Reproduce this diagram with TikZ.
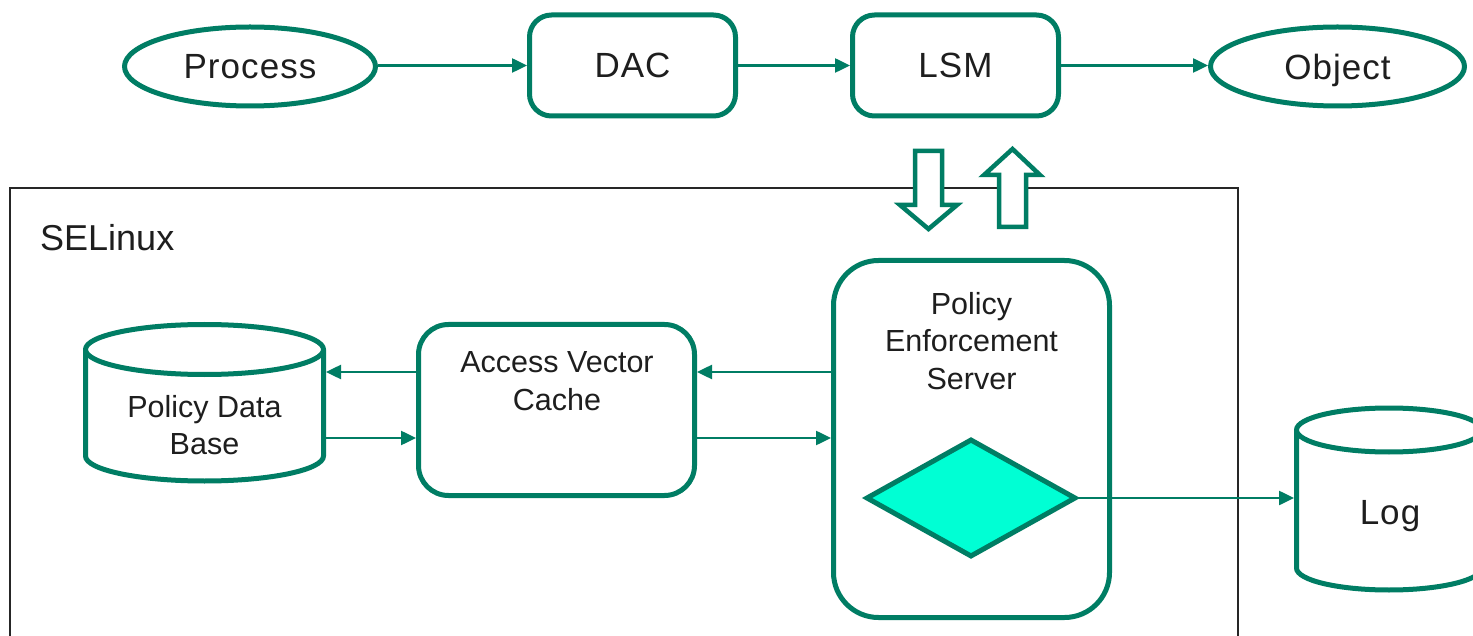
\documentclass[tikz,border=0pt]{standalone}
\usepackage{fontspec}
\setmainfont{Liberation Sans}
\newfontfamily\topfont[LetterSpace=3]{Liberation Sans}
\usetikzlibrary{shapes.geometric,arrows.meta}
\definecolor{segreen}{RGB}{0,125,100}
\definecolor{aquafill}{RGB}{0,255,212}
\definecolor{txtcol}{RGB}{30,30,30}
\begin{document}
\begin{tikzpicture}[x=1pt,y=-1pt,
  shp/.style={draw=segreen, line width=5pt, line join=round},
  toplbl/.style={text=txtcol, font=\topfont\fontsize{35}{40}\selectfont, text depth=0pt},
  inlbl/.style={text=txtcol, align=center, font=\fontsize{30.5}{37.5}\selectfont},
  ell/.style={shp, ellipse, toplbl, inner sep=0pt},
  rbox/.style={shp, rounded corners=22pt, toplbl, inner sep=0pt},
  conn/.style={draw=segreen, line width=2.5pt, -{Triangle[length=15pt,width=14pt]}},
  blk/.style={draw=segreen, line width=4.5pt, fill=white, line join=miter},
  ghost/.style={inner sep=0pt, outer sep=0pt}
]
\useasboundingbox (0,0) rectangle (1473,636);
\fill[white] (0,0) rectangle (1473,636);

% top row
\node[ell, minimum width=251pt, minimum height=79pt] (proc) at (250,66.5) {Process};
\node[rbox, minimum width=206pt, minimum height=101pt] (dac) at (632.5,65.5) {DAC};
\node[rbox, minimum width=206pt, minimum height=101pt] (lsm) at (955.5,65.5) {LSM};
\node[ell, minimum width=254pt, minimum height=79pt] (obj) at (1337.5,66.5) {Object};
\draw[conn] (proc.east |- dac.west) -- (dac.west);
\draw[conn] (dac) -- (lsm);
\draw[conn] (lsm.east) -- (lsm.east -| obj.west);

% SELinux frame
\draw[draw=black!85, line width=2pt] (10,645) -- (10,188) -- (1238,188) -- (1238,645);
\node[anchor=west, text=txtcol, font=\fontsize{36}{40}\selectfont, inner sep=0pt] (sel) at (40,238) {SELinux};

% block arrows between LSM and PES
\draw[blk] (915,151) -- (942,151) -- (942,205) -- (957,205) -- (928.5,229) -- (900,205) -- (915,205) -- cycle;
\draw[blk] (999,227) -- (1026,227) -- (1026,175) -- (1040,175) -- (1012.5,149) -- (984,175) -- (999,175) -- cycle;

% Policy Enforcement Server
\node[shp, rounded corners=45pt, minimum width=276pt, minimum height=357pt] (pes) at (971.5,439) {};
\node[inlbl] (pestxt) at (971.5,341) {Policy\\Enforcement\\Server};
\node[shp, diamond, fill=aquafill, line join=miter, inner sep=0pt, minimum width=210pt, minimum height=118pt] (dia) at (971,498) {};

% Access Vector Cache
\node[shp, rounded corners=30pt, minimum width=276pt, minimum height=171pt] (avc) at (556.5,410) {};
\node[inlbl] (avctxt) at (557,381) {Access Vector\\Cache};

% Policy Data Base cylinder
\draw[shp, fill=white] (85.5,349.5) -- (85.5,456) arc[start angle=180, end angle=360, x radius=119pt, y radius=25pt] -- (323.5,349.5);
\draw[shp, fill=white] (204.5,349.5) ellipse [x radius=119pt, y radius=25pt];
\node[ghost, minimum width=243pt, minimum height=160pt] (pdb) at (204.5,410) {};
\node[inlbl] (pdbtxt) at (204.5,425) {Policy Data\\Base};

% Log cylinder
\draw[shp, fill=white] (1296.5,430) -- (1296.5,568) arc[start angle=180, end angle=360, x radius=92.5pt, y radius=22pt] -- (1481.5,430);
\draw[shp, fill=white] (1389,430) ellipse [x radius=92.5pt, y radius=22pt];
\node[ghost, minimum width=190pt, minimum height=138pt] (log) at (1389,499) {};
\node[toplbl] (logtxt) at (1390,512) {Log};

% connectors
\coordinate (r1) at ([yshift=38pt]avc.east);
\coordinate (r2) at ([yshift=-28pt]avc.east);
\coordinate (l1) at ([yshift=38pt]avc.west);
\coordinate (l2) at ([yshift=-28pt]avc.west);
\draw[conn] (l1) -- (l1 -| pdb.east);
\draw[conn] (l2 -| pdb.east) -- (l2);
\draw[conn] (r1 -| pes.west) -- (r1);
\draw[conn] (r2) -- (r2 -| pes.west);
\draw[conn] (dia.east) -- (dia.east -| log.west);
\end{tikzpicture}
\end{document}
